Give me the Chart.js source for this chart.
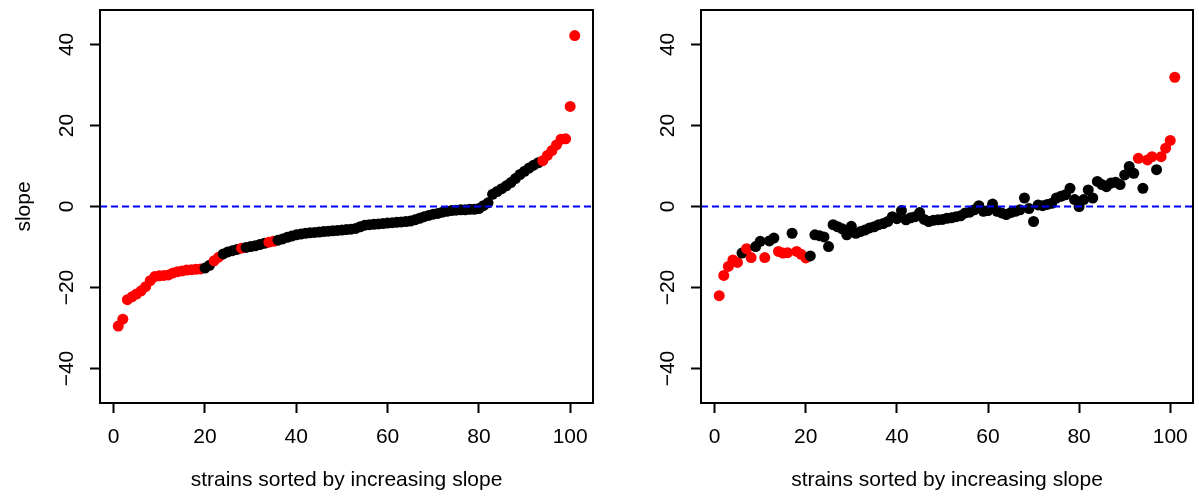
<!DOCTYPE html>
<html>
<head>
<meta charset="utf-8">
<title>slope by strain</title>
<script src="https://cdn.jsdelivr.net/npm/chart.js@4.4.1/dist/chart.umd.min.js"></script>
<style>
  html, body { margin: 0; padding: 0; background: #fff; }
  #wrap { position: relative; width: 1199px; height: 496px; }
  .panel { position: absolute; top: 0; height: 496px; }
</style>
</head>
<body>
<div id="wrap">
  <div class="panel" style="left:0"><canvas id="leftChart" width="600" height="496"></canvas></div>
  <div class="panel" style="left:600px"><canvas id="rightChart" width="599" height="496"></canvas></div>
</div>
<script>
// 左图：按斜率排序后的各菌株斜率
const leftSlopes = [
    -29.5, -27.8, -23.0, -22.3, -21.6, -20.8, -19.8, -18.3, -17.3, -17.1,
    -17.0, -16.9, -16.4, -16.1, -15.9, -15.7, -15.6, -15.5, -15.4, -15.2,
    -14.5, -13.4, -12.5, -11.7, -11.2, -10.9, -10.6, -10.3, -10.1, -9.9,
    -9.7, -9.4, -9.1, -8.8, -8.6, -8.3, -8.0, -7.6, -7.3, -7.0,
    -6.8, -6.6, -6.5, -6.4, -6.3, -6.2, -6.1, -6.0, -5.9, -5.8,
    -5.7, -5.6, -5.4, -5.0, -4.6, -4.5, -4.4, -4.3, -4.2, -4.1,
    -4.0, -3.9, -3.8, -3.7, -3.6, -3.3, -2.9, -2.5, -2.2, -1.9,
    -1.7, -1.4, -1.2, -1.0, -0.9, -0.8, -0.8, -0.7, -0.7, -0.5,
    0.2, 0.9, 3.0, 3.7, 4.4, 5.1, 5.9, 6.9, 7.9, 8.7,
    9.5, 10.2, 10.8, 11.3, 12.6, 13.8, 15.2, 16.6, 16.7, 24.7,
    42.2
];
// 1 = 红色点, 0 = 黑色点
const leftFlags = [
    1, 1, 1, 1, 1, 1, 1, 1, 1, 1,
    1, 1, 1, 1, 1, 1, 1, 1, 1, 0,
    0, 1, 1, 0, 0, 0, 0, 1, 0, 0,
    0, 0, 0, 1, 1, 0, 0, 0, 0, 0,
    0, 0, 0, 0, 0, 0, 0, 0, 0, 0,
    0, 0, 0, 0, 0, 0, 0, 0, 0, 0,
    0, 0, 0, 0, 0, 0, 0, 0, 0, 0,
    0, 0, 0, 0, 0, 0, 0, 0, 0, 0,
    0, 0, 0, 0, 0, 0, 0, 0, 0, 0,
    0, 0, 0, 1, 1, 1, 1, 1, 1, 1,
    1
];

// 右图
const rightSlopes = [
    -22.0, -17.0, -14.8, -13.2, -13.8, -11.5, -10.4, -12.6, -9.9, -8.6,
    -12.6, -8.5, -7.8, -11.1, -11.5, -11.4, -6.6, -11.1, -11.8, -12.7,
    -12.2, -7.0, -7.2, -7.5, -9.9, -4.5, -5.0, -5.5, -7.0, -4.9,
    -6.6, -6.2, -5.8, -5.3, -5.0, -4.5, -4.2, -3.7, -2.5, -3.0,
    -1.0, -3.3, -2.8, -2.5, -1.5, -3.2, -3.7, -3.4, -3.3, -3.2,
    -2.9, -2.8, -2.5, -2.3, -1.6, -1.4, -0.8, 0.2, -1.2, -1.0,
    0.6, -1.2, -1.6, -2.0, -1.5, -1.2, -0.8, 2.1, -0.5, -3.7,
    0.4, 0.2, 0.5, 0.8, 2.1, 2.5, 2.9, 4.5, 1.7, 0.0,
    1.7, 4.1, 2.1, 6.2, 5.4, 4.9, 5.8, 6.0, 5.4, 7.8,
    9.9, 8.2, 11.9, 4.5, 11.5, 12.3, 9.1, 12.3, 14.4, 16.3,
    31.9
];
const rightFlags = [
    1, 1, 1, 1, 1, 0, 1, 1, 0, 0,
    1, 0, 0, 1, 1, 1, 0, 1, 1, 1,
    0, 0, 0, 0, 0, 0, 0, 0, 0, 0,
    0, 0, 0, 0, 0, 0, 0, 0, 0, 0,
    0, 0, 0, 0, 0, 0, 0, 0, 0, 0,
    0, 0, 0, 0, 0, 0, 0, 0, 0, 0,
    0, 0, 0, 0, 0, 0, 0, 0, 0, 0,
    0, 0, 0, 0, 0, 0, 0, 0, 0, 0,
    0, 0, 0, 0, 0, 0, 0, 0, 0, 0,
    0, 0, 1, 0, 1, 1, 0, 1, 1, 1,
    1
];

// 坐标轴
const xTicks = [0, 20, 40, 60, 80, 100];
const yTicks = [-40, -20, 0, 20, 40];
const xRange = [-3, 105];
const yRange = [-48.5, 48.5];
const refLine = 0;
const xTitle = 'strains sorted by increasing slope';
const yTitle = 'slope';

const colors = {
    hit: '#ff0000',
    other: '#000000',
    ref: '#0000ff',
    axis: '#000000'
};
const FONT = { family: "'Liberation Sans', Arial, sans-serif", size: 21 };

// 负号用 U+2212
function fmtTick(v) {
    return v < 0 ? '\u2212' + Math.abs(v) : String(v);
}

// 绘图区外框
const boxPlugin = {
    id: 'plotBox',
    afterDraw(chart) {
        const { ctx, chartArea: a } = chart;
        ctx.save();
        ctx.strokeStyle = colors.axis;
        ctx.lineWidth = 2;
        ctx.strokeRect(a.left, a.top, a.right - a.left, a.bottom - a.top);
        ctx.restore();
    }
};

function makePanel(canvasId, slopes, flags, opts) {
    const points = slopes.map((v, i) => ({ x: i + 1, y: v }));
    const pointColors = flags.map(f => f ? colors.hit : colors.other);

    return new Chart(document.getElementById(canvasId), {
        type: 'scatter',
        data: {
            datasets: [
                {
                    type: 'line',
                    data: [{ x: xRange[0], y: refLine }, { x: xRange[1], y: refLine }],
                    borderColor: colors.ref,
                    borderWidth: 2,
                    borderDash: [7, 4],
                    pointRadius: 0,
                    fill: false,
                    order: 0
                },
                {
                    data: points,
                    pointRadius: 5.5,
                    pointBorderWidth: 0,
                    pointBackgroundColor: pointColors,
                    pointBorderColor: pointColors,
                    order: 1
                }
            ]
        },
        options: {
            responsive: false,
            animation: false,
            events: [],
            layout: { padding: { top: 10, right: opts.padRight, left: 0, bottom: 0 } },
            plugins: { legend: { display: false }, tooltip: { enabled: false } },
            scales: {
                x: {
                    type: 'linear',
                    min: xRange[0],
                    max: xRange[1],
                    afterBuildTicks: s => { s.ticks = xTicks.map(v => ({ value: v })); },
                    afterFit: s => { s.height = 93; s.paddingLeft = 0; s.paddingRight = 0; },
                    border: { display: false },
                    grid: { drawOnChartArea: false, drawTicks: true, tickLength: 10, tickWidth: 2, tickColor: colors.axis },
                    ticks: { color: colors.axis, font: FONT, padding: 12, maxRotation: 0, callback: fmtTick },
                    title: { display: true, text: xTitle, color: colors.axis, font: FONT, padding: { top: 0, bottom: 3 } }
                },
                y: {
                    type: 'linear',
                    min: yRange[0],
                    max: yRange[1],
                    afterBuildTicks: s => { s.ticks = yTicks.map(v => ({ value: v })); },
                    afterFit: s => { s.width = opts.axisWidth; s.paddingTop = 0; s.paddingBottom = 0; },
                    border: { display: false },
                    grid: { drawOnChartArea: false, drawTicks: true, tickLength: 10, tickWidth: 2, tickColor: colors.axis },
                    ticks: { color: colors.axis, font: FONT, padding: 5, minRotation: 90, maxRotation: 90, crossAlign: 'center', callback: fmtTick },
                    title: { display: opts.showYTitle, text: yTitle, color: colors.axis, font: FONT, padding: { top: 12, bottom: 0 } }
                }
            }
        },
        plugins: [boxPlugin]
    });
}

makePanel('leftChart', leftSlopes, leftFlags, { axisWidth: 100, padRight: 7, showYTitle: true });
makePanel('rightChart', rightSlopes, rightFlags, { axisWidth: 101, padRight: 6, showYTitle: false });
</script>
</body>
</html>
